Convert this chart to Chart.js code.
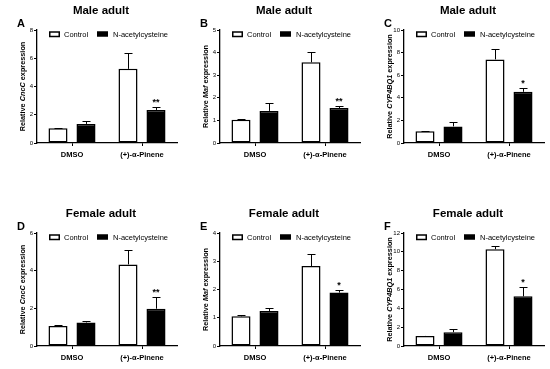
<!DOCTYPE html>
<html>
<head>
<meta charset="utf-8">
<script src="https://cdn.jsdelivr.net/npm/chart.js@4.4.1/dist/chart.umd.min.js"></script>
<style>
  body { margin: 0; background: #fff; width: 550px; height: 369px; position: relative; overflow: hidden; }
  canvas { position: absolute; }
</style>
</head>
<body>
<canvas id="pA" width="183" height="166" style="left:0;top:0"></canvas>
<canvas id="pB" width="183" height="166" style="left:183px;top:0"></canvas>
<canvas id="pC" width="183" height="166" style="left:367px;top:0"></canvas>
<canvas id="pD" width="183" height="166" style="left:0;top:203px"></canvas>
<canvas id="pE" width="183" height="166" style="left:183px;top:203px"></canvas>
<canvas id="pF" width="183" height="166" style="left:367px;top:203px"></canvas>
<script>
// --- data ---
const categories = ['DMSO', '(+)-α-Pinene'];
const seriesNames = ['Control', 'N-acetylcysteine'];

const cncMaleControl = [1.04, 5.25];
const cncMaleControlErr = [0.03, 1.15];
const cncMaleNac = [1.35, 2.34];
const cncMaleNacErr = [0.23, 0.19];

const mafMaleControl = [1.03, 3.57];
const mafMaleControlErr = [0.04, 0.45];
const mafMaleNac = [1.42, 1.55];
const mafMaleNacErr = [0.35, 0.09];

const cypMaleControl = [1.04, 7.4];
const cypMaleControlErr = [0.03, 0.9];
const cypMaleNac = [1.47, 4.53];
const cypMaleNacErr = [0.36, 0.37];

const cncFemaleControl = [1.06, 4.33];
const cncFemaleControlErr = [0.03, 0.76];
const cncFemaleNac = [1.25, 1.98];
const cncFemaleNacErr = [0.1, 0.63];

const mafFemaleControl = [1.05, 2.83];
const mafFemaleControlErr = [0.05, 0.41];
const mafFemaleNac = [1.24, 1.89];
const mafFemaleNacErr = [0.09, 0.11];

const cypFemaleControl = [1.07, 10.28];
const cypFemaleControlErr = [0.03, 0.36];
const cypFemaleNac = [1.47, 5.27];
const cypFemaleNacErr = [0.36, 0.97];

const FONT = "'Liberation Sans', Arial, sans-serif";

// --- decorations: error bars, stars, title, letter, legend, y title ---
const decor = {
  id: 'decor',
  afterDatasetsDraw(chart, args, o) {
    const ctx = chart.ctx, y = chart.scales.y;
    ctx.save();
    ctx.strokeStyle = '#000';
    ctx.lineWidth = 1;
    o.errors.forEach((errs, di) => {
      chart.getDatasetMeta(di).data.forEach((bar, i) => {
        const v = chart.data.datasets[di].data[i];
        const top = Math.round(y.getPixelForValue(v + errs[i])) + 0.5;
        const x = Math.round(bar.x) + 0.5;
        ctx.beginPath();
        ctx.moveTo(x, bar.y);
        ctx.lineTo(x, top);
        ctx.moveTo(x - 4, top);
        ctx.lineTo(x + 4, top);
        ctx.stroke();
        if (o.star && o.star.index === i && o.star.dataset === di) {
          ctx.fillStyle = '#000';
          ctx.font = 'bold 9px ' + FONT;
          ctx.textAlign = 'center';
          ctx.textBaseline = 'bottom';
          ctx.fillText(o.star.text, bar.x, top - 0.5);
        }
      });
    });
    ctx.restore();
  },
  afterDraw(chart, args, o) {
    const ctx = chart.ctx, area = chart.chartArea;
    ctx.save();
    ctx.fillStyle = '#000';
    ctx.strokeStyle = '#000';

    // panel title
    ctx.font = 'bold 11.5px ' + FONT;
    ctx.textAlign = 'center';
    ctx.textBaseline = 'alphabetic';
    ctx.fillText(o.title, 101, 14);

    // panel letter
    ctx.font = 'bold 11px ' + FONT;
    ctx.textAlign = 'left';
    ctx.fillText(o.letter, 17, 27);

    // legend
    const ly = area.top + 4;
    const lx = area.left + 12;
    ctx.lineWidth = 1.5;
    ctx.strokeRect(lx + 0.75, ly - 2, 9.5, 4.5);
    ctx.fillRect(lx + 48, ly - 2.75, 11, 5.5);
    ctx.font = '7.5px ' + FONT;
    ctx.textBaseline = 'middle';
    ctx.fillText(seriesNames[0], lx + 15, ly + 0.5);
    ctx.fillText(seriesNames[1], lx + 64, ly + 0.5);

    // y axis title with italic gene name
    const parts = [['Relative ', 'bold'], [o.gene, 'italic bold'], [' expression', 'bold']];
    let total = 0;
    parts.forEach(p => { ctx.font = p[1] + ' 7.3px ' + FONT; total += ctx.measureText(p[0]).width; });
    ctx.translate(23, (area.top + area.bottom) / 2);
    ctx.rotate(-Math.PI / 2);
    let x = -total / 2;
    ctx.textAlign = 'left';
    ctx.textBaseline = 'middle';
    parts.forEach(p => {
      ctx.font = p[1] + ' 7.3px ' + FONT;
      ctx.fillText(p[0], x, 0);
      x += ctx.measureText(p[0]).width;
    });
    ctx.restore();
  }
};

function makePanel(id, p) {
  const axisGrid = { drawOnChartArea: false, offset: false, tickLength: 3, color: '#000', lineWidth: 1 };
  return new Chart(document.getElementById(id), {
    type: 'bar',
    plugins: [decor],
    data: {
      labels: categories,
      datasets: [
        { label: seriesNames[0], data: p.control, backgroundColor: '#fff', borderColor: '#000', borderWidth: 1.5, borderSkipped: false },
        { label: seriesNames[1], data: p.nac, backgroundColor: '#000', borderColor: '#000', borderWidth: 1.5, borderSkipped: false }
      ]
    },
    options: {
      responsive: false,
      animation: false,
      devicePixelRatio: 1,
      layout: { padding: { top: 30, right: 6, bottom: 3, left: 0 } },
      datasets: { bar: { categoryPercentage: 0.8, barPercentage: 0.68 } },
      plugins: {
        legend: { display: false },
        tooltip: { enabled: false },
        decor: { title: p.title, letter: p.letter, gene: p.gene, errors: [p.controlErr, p.nacErr], star: p.star }
      },
      scales: {
        x: {
          grid: axisGrid,
          border: { color: '#000', width: 1.3 },
          ticks: { color: '#000', font: { family: FONT, size: 7.5, weight: 'bold' }, padding: 4, maxRotation: 0, autoSkip: false },
          afterFit(s) { s.height = 20; }
        },
        y: {
          min: 0,
          max: p.max,
          grid: axisGrid,
          border: { color: '#000', width: 1.3 },
          ticks: { stepSize: p.step, color: '#000', font: { family: FONT, size: 6 }, padding: 1 },
          afterFit(s) { s.width = 37; }
        }
      }
    }
  });
}

makePanel('pA', { title: 'Male adult', letter: 'A', gene: 'CncC', max: 8, step: 2,
  control: cncMaleControl, controlErr: cncMaleControlErr, nac: cncMaleNac, nacErr: cncMaleNacErr,
  star: { dataset: 1, index: 1, text: '**' } });
makePanel('pB', { title: 'Male adult', letter: 'B', gene: 'Maf', max: 5, step: 1,
  control: mafMaleControl, controlErr: mafMaleControlErr, nac: mafMaleNac, nacErr: mafMaleNacErr,
  star: { dataset: 1, index: 1, text: '**' } });
makePanel('pC', { title: 'Male adult', letter: 'C', gene: 'CYP4BQ1', max: 10, step: 2,
  control: cypMaleControl, controlErr: cypMaleControlErr, nac: cypMaleNac, nacErr: cypMaleNacErr,
  star: { dataset: 1, index: 1, text: '*' } });
makePanel('pD', { title: 'Female adult', letter: 'D', gene: 'CncC', max: 6, step: 2,
  control: cncFemaleControl, controlErr: cncFemaleControlErr, nac: cncFemaleNac, nacErr: cncFemaleNacErr,
  star: { dataset: 1, index: 1, text: '**' } });
makePanel('pE', { title: 'Female adult', letter: 'E', gene: 'Maf', max: 4, step: 1,
  control: mafFemaleControl, controlErr: mafFemaleControlErr, nac: mafFemaleNac, nacErr: mafFemaleNacErr,
  star: { dataset: 1, index: 1, text: '*' } });
makePanel('pF', { title: 'Female adult', letter: 'F', gene: 'CYP4BQ1', max: 12, step: 2,
  control: cypFemaleControl, controlErr: cypFemaleControlErr, nac: cypFemaleNac, nacErr: cypFemaleNacErr,
  star: { dataset: 1, index: 1, text: '*' } });
</script>
</body>
</html>
